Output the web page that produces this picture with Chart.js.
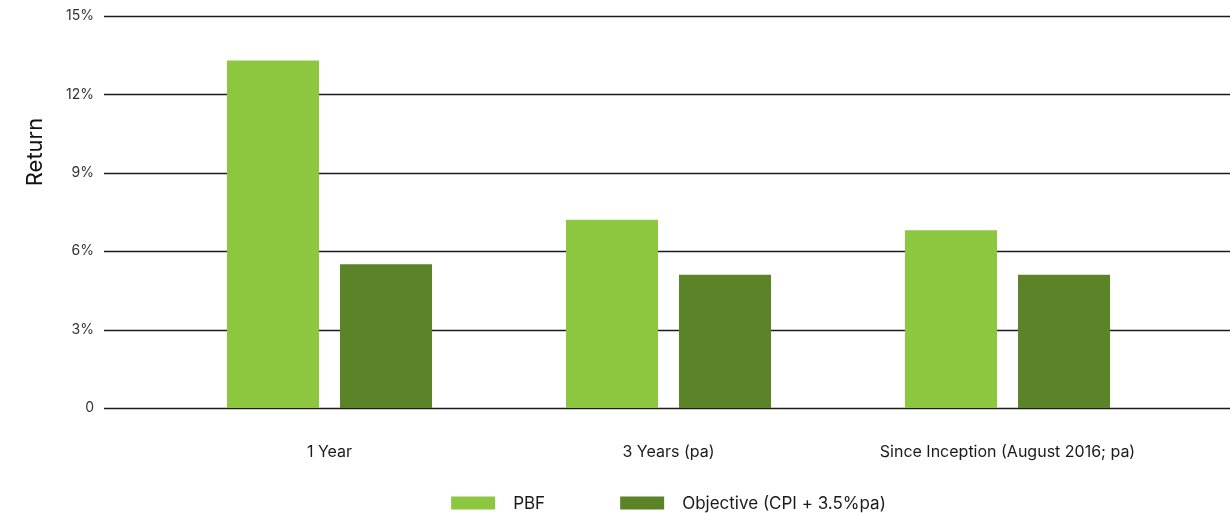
<!DOCTYPE html>
<html>
<head>
<meta charset="utf-8">
<script src="https://cdn.jsdelivr.net/npm/chart.js@4.4.1/dist/chart.umd.min.js"></script>
<style>
  html, body { margin: 0; padding: 0; background: #ffffff; }
  #wrap { width: 1230px; height: 513px; position: relative; }
</style>
</head>
<body>
<div id="wrap"><canvas id="returns"></canvas></div>
<script>
// Periods shown along the bottom
const categories = ['1 Year', '3 Years (pa)', 'Since Inception (August 2016; pa)'];
// Returns in percent
const pbfReturns = [13.3, 7.2, 6.8];
const objectiveReturns = [5.5, 5.1, 5.1];
// Y axis ticks
const yTicks = [0, 3, 6, 9, 12, 15];
const seriesNames = ['PBF', 'Objective (CPI + 3.5%pa)'];
const seriesColors = ['#8DC63F', '#5B8327'];

const FONT = 'Inter, "Noto Sans", "Liberation Sans", sans-serif';

// Horizontal rules drawn across the full width behind the bars
const gridRules = {
  id: 'gridRules',
  beforeDatasetsDraw(chart) {
    const { ctx } = chart;
    const y = chart.scales.y;
    ctx.save();
    ctx.strokeStyle = '#1c1c1c';
    ctx.lineWidth = 1.3;
    yTicks.forEach(v => {
      const py = Math.round(y.getPixelForValue(v)) + 0.5;
      ctx.beginPath();
      ctx.moveTo(104, py);
      ctx.lineTo(chart.width, py);
      ctx.stroke();
    });
    ctx.restore();
  }
};

// Axis title and legend row
const extras = {
  id: 'extras',
  afterDraw(chart) {
    const { ctx, chartArea } = chart;
    ctx.save();
    // Y axis title
    ctx.fillStyle = '#111';
    ctx.font = '22px ' + FONT;
    ctx.textAlign = 'center';
    ctx.textBaseline = 'middle';
    ctx.translate(35, 152);
    ctx.rotate(-Math.PI / 2);
    ctx.fillText('Return', 0, 0);
    ctx.restore();

    // Legend
    ctx.save();
    ctx.font = '17px ' + FONT;
    ctx.textBaseline = 'middle';
    ctx.textAlign = 'left';
    const boxW = 44, boxH = 13, boxGap = 18, itemGap = 75;
    const items = chart.data.datasets.map(ds => ({
      label: ds.label, color: ds.backgroundColor,
      w: boxW + boxGap + ctx.measureText(ds.label).width
    }));
    const total = items.reduce((s, it) => s + it.w, 0) + itemGap * (items.length - 1);
    let x = (chartArea.left + chartArea.right) / 2 - total / 2;
    const cy = 503;
    items.forEach(it => {
      ctx.fillStyle = it.color;
      ctx.fillRect(x, cy - boxH / 2, boxW, boxH);
      ctx.fillStyle = '#1a1a1a';
      ctx.fillText(it.label, x + boxW + boxGap, cy + 1);
      x += it.w + itemGap;
    });
    ctx.restore();
  }
};

new Chart(document.getElementById('returns'), {
  type: 'bar',
  data: {
    labels: categories,
    datasets: [
      { label: seriesNames[0], data: pbfReturns, backgroundColor: seriesColors[0],
        categoryPercentage: 0.667, barPercentage: 0.814 },
      { label: seriesNames[1], data: objectiveReturns, backgroundColor: seriesColors[1],
        categoryPercentage: 0.667, barPercentage: 0.814 }
    ]
  },
  options: {
    responsive: true,
    maintainAspectRatio: false,
    animation: false,
    layout: { padding: { top: 16, right: 53, left: 0, bottom: 0 } },
    plugins: {
      legend: { display: false },
      tooltip: { enabled: false }
    },
    scales: {
      x: {
        grid: { display: false, drawTicks: false },
        border: { display: false },
        ticks: {
          color: '#1a1a1a',
          font: { family: FONT, size: 16 },
          padding: 35,
          maxRotation: 0,
          autoSkip: false
        },
        afterFit(scale) { scale.height = 105; }
      },
      y: {
        min: 0,
        max: 15,
        grid: { display: false, drawTicks: false },
        border: { display: false },
        afterBuildTicks(scale) { scale.ticks = yTicks.map(v => ({ value: v })); },
        ticks: {
          color: '#333',
          font: { family: FONT, size: 14 },
          padding: 66,
          callback: v => v === 0 ? '0' : v + '%'
        },
        afterFit(scale) {
          scale.width = 160;
          scale.paddingTop = 8;
          scale.paddingBottom = 8;
        }
      }
    }
  },
  plugins: [gridRules, extras]
});
</script>
</body>
</html>
